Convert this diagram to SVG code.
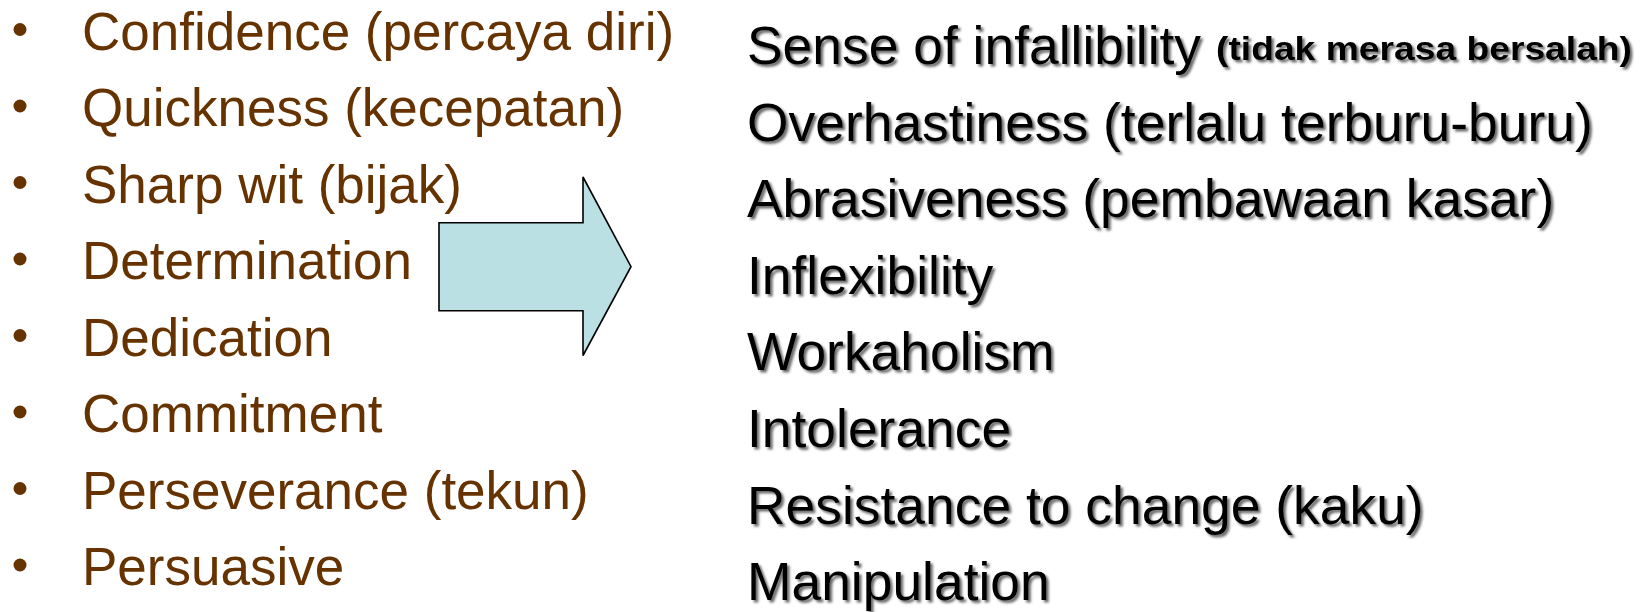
<svg xmlns="http://www.w3.org/2000/svg" width="1644" height="612" viewBox="0 0 1644 612">
  <style>
    .strength { font-family: "Liberation Sans", Arial, sans-serif; font-size: 53px; fill: #663300; }
    .dot { fill: #663300; }
    .risk { font-family: "Liberation Sans", Arial, sans-serif; font-size: 53.4px; fill: #000000; filter: url(#shadow); }
    .note { font-weight: bold; font-size: 34px; }
    .block-arrow { fill: #BBE0E3; stroke: #000000; stroke-width: 1.6; stroke-linejoin: miter; }
  </style>
  <defs>
    <filter id="shadow" x="-5%" y="-30%" width="110%" height="160%">
      <feDropShadow dx="2.5" dy="2.5" stdDeviation="1.2" flood-color="#3a3a3a" flood-opacity="0.75"/>
    </filter>
  </defs>

  <rect width="1644" height="612" fill="#ffffff"/>

  <!-- Strengths: bulleted list on the left -->
  <g id="strengths">
    <g id="s-confidence"><circle class="dot" cx="20" cy="29.5" r="6.5"/><text class="strength" x="82" y="49.5">Confidence (percaya diri)</text></g>
    <g id="s-quickness"><circle class="dot" cx="20" cy="106" r="6.5"/><text class="strength" x="82" y="126">Quickness (kecepatan)</text></g>
    <g id="s-sharp-wit"><circle class="dot" cx="20" cy="182.5" r="6.5"/><text class="strength" x="82" y="202.5">Sharp wit (bijak)</text></g>
    <g id="s-determination"><circle class="dot" cx="20" cy="259" r="6.5"/><text class="strength" x="82" y="279">Determination</text></g>
    <g id="s-dedication"><circle class="dot" cx="20" cy="335.5" r="6.5"/><text class="strength" x="82" y="355.5">Dedication</text></g>
    <g id="s-commitment"><circle class="dot" cx="20" cy="412" r="6.5"/><text class="strength" x="82" y="432">Commitment</text></g>
    <g id="s-perseverance"><circle class="dot" cx="20" cy="488.5" r="6.5"/><text class="strength" x="82" y="508.5">Perseverance (tekun)</text></g>
    <g id="s-persuasive"><circle class="dot" cx="20" cy="565" r="6.5"/><text class="strength" x="82" y="585">Persuasive</text></g>
  </g>

  <!-- Block arrow leading from strengths to their downsides -->
  <g id="connectors">
    <g id="arrow">
      <polygon class="block-arrow" points="439,222.7 583,222.7 583,177 631,266.7 583,355.5 583,310.7 439,310.7"/>
    </g>
  </g>

  <!-- Downsides: list on the right -->
  <g id="downsides">
    <g id="d-infallibility"><text class="risk" x="747" y="64">Sense of infallibility</text><text class="risk note" x="1216" y="60" textLength="416" lengthAdjust="spacingAndGlyphs">(tidak merasa bersalah)</text></g>
    <g id="d-overhastiness"><text class="risk" x="747" y="140.6">Overhastiness (terlalu terburu-buru)</text></g>
    <g id="d-abrasiveness"><text class="risk" x="747" y="217.2">Abrasiveness (pembawaan kasar)</text></g>
    <g id="d-inflexibility"><text class="risk" x="747" y="293.8">Inflexibility</text></g>
    <g id="d-workaholism"><text class="risk" x="747" y="370.4">Workaholism</text></g>
    <g id="d-intolerance"><text class="risk" x="747" y="447">Intolerance</text></g>
    <g id="d-resistance"><text class="risk" x="747" y="523.6">Resistance to change (kaku)</text></g>
    <g id="d-manipulation"><text class="risk" x="747" y="600.2">Manipulation</text></g>
  </g>
</svg>
